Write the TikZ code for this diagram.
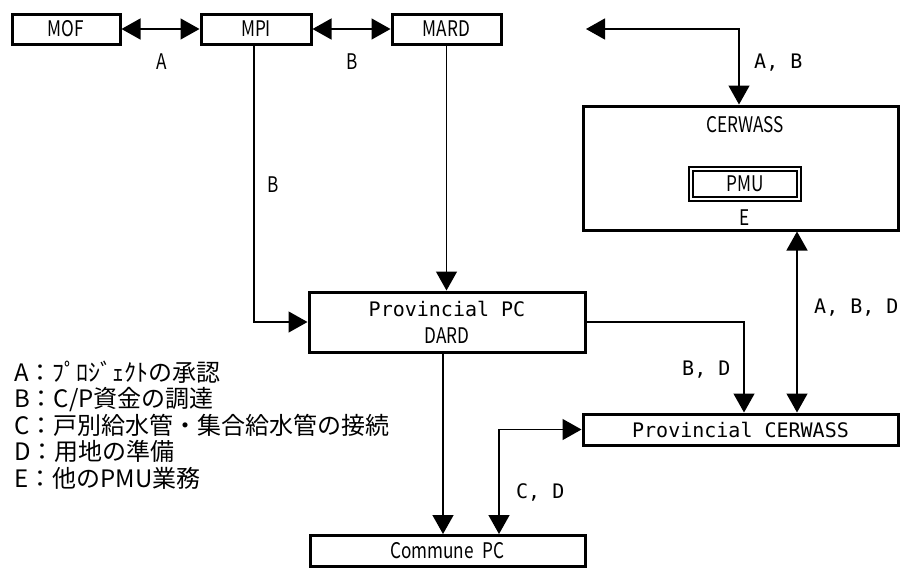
\documentclass[tikz,border=0pt]{standalone}
\usepackage{fontspec}
\setmainfont{Noto Sans CJK JP}
\newfontfamily\narrowfont[FakeStretch=0.8]{Noto Sans CJK JP}
\newfontfamily\monofont{DejaVu Sans Mono}
\usetikzlibrary{positioning, arrows.meta}

\tikzset{
  orgbox/.style={draw, line width=3pt, rectangle, inner sep=0pt,
                 font=\narrowfont\fontsize{21.5}{24}\selectfont},
  txt/.style={inner sep=0pt, font=\narrowfont\fontsize{21.5}{24}\selectfont},
  montxt/.style={inner sep=0pt, anchor=west, font=\monofont\fontsize{20}{24}\selectfont},
  oneway/.style={line width=1.4pt, -{Triangle[length=19pt,width=21pt]}},
  twoway/.style={line width=1.4pt, {Triangle[length=19pt,width=21pt]}-{Triangle[length=19pt,width=21pt]}}
}

\begin{document}
\begin{tikzpicture}[x=1pt, y=-1pt]
  \useasboundingbox (0,0) rectangle (901,568);

  \node[orgbox, minimum width=108pt, minimum height=30pt] (mof) at (66,29) {MOF};
  \node[orgbox, minimum width=110pt, minimum height=30pt] (mpi) at (256,29) {MPI};
  \node[orgbox, minimum width=109pt, minimum height=30pt] (mard) at (446.5,29) {MARD};

  \node[orgbox, minimum width=315pt, minimum height=124pt] (cerwass) at (740.5,168) {};
  \node[txt] (cerwasstxt) at (745,125) {CERWASS};
  \node[orgbox, line width=2pt, double, double distance=2.6pt,
        minimum width=108pt, minimum height=30pt] (pmu) at (745,184) {PMU};
  \node[txt] (pmutask) at (745,218) {E};

  \node[orgbox, minimum width=276pt, minimum height=60pt, align=center] (ppc) at (447,322)
    {{\monofont\fontsize{20}{24}\selectfont Provincial PC}\\[3pt]DARD};
  \node[orgbox, minimum width=315pt, minimum height=31pt,
        font=\monofont\fontsize{20}{24}\selectfont] (pcw) at (740.5,429.5) {Provincial CERWASS};
  \node[orgbox, minimum width=275pt, minimum height=31pt] (commune) at (447.5,551)
    {Commune\hspace{9pt}PC\hspace{36pt}};

  \coordinate (abend) at (586,29);
  \coordinate (abturn) at (739,29);

  \draw[twoway] (mof.east) -- (mpi.west);
  \draw[twoway] (mpi.east) -- (mard.west);
  \draw[twoway] (abend) -- (abturn) -- (abturn |- cerwass.north);
  \draw[oneway] ([xshift=-2pt]mpi.south) |- (ppc.west);
  \draw[oneway] (mard.south) -- (mard.south |- ppc.north);
  \draw[oneway] (ppc.east) -| ([xshift=3.5pt]pcw.north);
  \draw[twoway] ([xshift=56.5pt]cerwass.south) -- ([xshift=56.5pt]pcw.north);
  \draw[oneway] ([xshift=-4pt]ppc.south) -- ([xshift=-4.5pt]commune.north);
  \draw[twoway] (pcw.west) -| ([xshift=51.5pt]commune.north);

  \node[txt] (labA) at (162,62) {A};
  \node[txt] (labB) at (352,62) {B};
  \node[txt] (labMpi) at (273,185) {B};
  \node[montxt] (labAB) at (754,63) {A, B};
  \node[montxt] (labABD) at (814,308) {A, B, D};
  \node[montxt] (labBD) at (682,370) {B, D};
  \node[montxt] (labCD) at (516,492) {C, D};

  \node[inner sep=0pt, anchor=west, align=left, font=\fontsize{24}{26.5}\selectfont] (legend) at (14,425)
    {A：ﾌﾟﾛｼﾞｪｸﾄの承認\\
     B：C/P資金の調達\\
     C：戸別給水管・集合給水管の接続\\
     D：用地の準備\\
     E：他のPMU業務};
\end{tikzpicture}
\end{document}
